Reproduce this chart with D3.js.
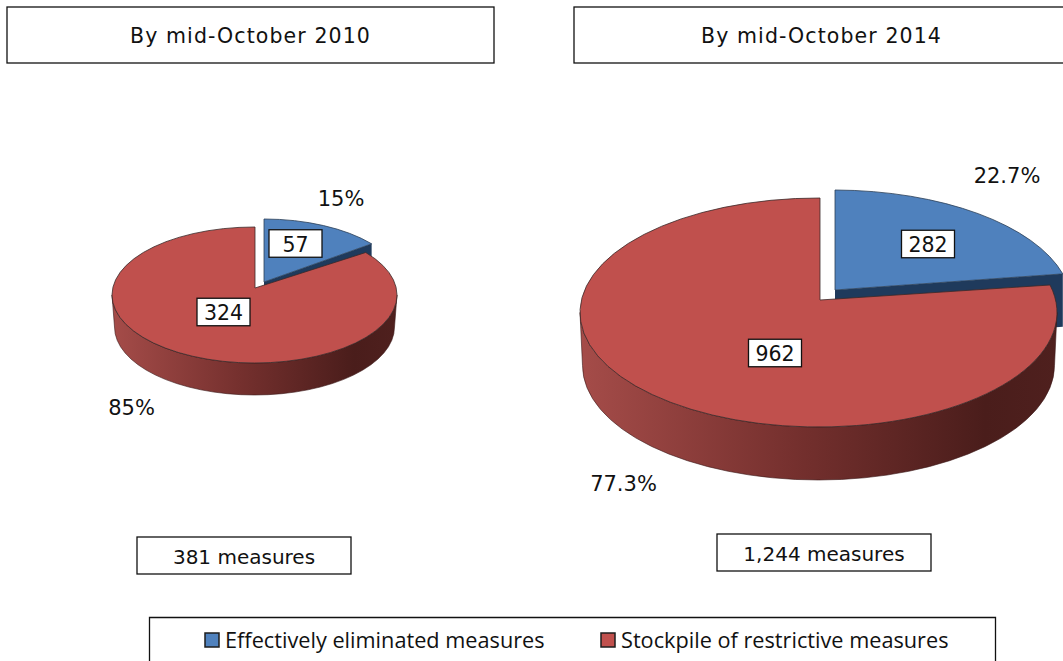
<!DOCTYPE html>
<html>
<head>
<meta charset="utf-8">
<script src="https://d3js.org/d3.v7.min.js"></script>
<style>
html, body { margin: 0; padding: 0; background: #fff; overflow: hidden; }
svg { display: block; }
text { font-family: "DejaVu Sans", sans-serif; fill: #111; }
</style>
</head>
<body>
<div id="chart"></div>
<script>
const categories = ['Effectively eliminated measures', 'Stockpile of restrictive measures'];
const titles = ['By mid-October 2010', 'By mid-October 2014'];
const values2010 = [57, 324];
const values2014 = [282, 962];
const percents2010 = ['15%', '85%'];
const percents2014 = ['22.7%', '77.3%'];
const totals = ['381 measures', '1,244 measures'];

const w = 1063;
const h = 661;
const colors = ['#4f81bd', '#c0504d'];
const blueWall = '#1f3a5c';

// red = top face ellipse, blue = the pulled out slice, apex = where the cut edges meet
const pies = [
  {
    values: values2010, percents: percents2010,
    red: { cx: 254.5, cy: 295, rx: 142.5, ry: 68, apex: [255, 288], tilt: 0.92 },
    blue: { cx: 263.5, cy: 287, rx: 140, ry: 68, apex: [264, 282], tilt: 1 },
    depth: 32, inset: 2.5,
    boxes: [[295.5, 243.5], [223.5, 312]],
    pctPos: [[341, 206], [131.5, 415]]
  },
  {
    values: values2014, percents: percents2014,
    red: { cx: 818.5, cy: 312.5, rx: 238.5, ry: 114.5, apex: [820, 300], tilt: 0.92 },
    blue: { cx: 833, cy: 304.5, rx: 238.5, ry: 114.5, apex: [835, 290], tilt: 1 },
    depth: 53, inset: 2.5,
    boxes: [[928, 244], [775, 353]],
    pctPos: [[1007, 183], [623.5, 491]]
  }
];

const svg = d3.select('#chart').append('svg').attr('width', w).attr('height', h);

const grad = svg.append('defs').append('linearGradient').attr('id', 'wallGrad');
grad.append('stop').attr('offset', '0%').attr('stop-color', '#a54c49');
grad.append('stop').attr('offset', '45%').attr('stop-color', '#75302e');
grad.append('stop').attr('offset', '85%').attr('stop-color', '#4a1d1b');
grad.append('stop').attr('offset', '100%').attr('stop-color', '#4f201e');

const pie = d3.pie().sort(null).value(d => d);

// where a ray out of the apex at pie angle a meets the ellipse
function rim(e, a) {
  const dx = e.rx * Math.sin(a), dy = -e.ry * e.tilt * Math.cos(a);
  const px = (e.apex[0] - e.cx) / e.rx, py = (e.apex[1] - e.cy) / e.ry;
  const qx = dx / e.rx, qy = dy / e.ry;
  const A = qx * qx + qy * qy, B = 2 * (px * qx + py * qy), C = px * px + py * py - 1;
  const k = (-B + Math.sqrt(B * B - 4 * A * C)) / (2 * A);
  return [e.apex[0] + k * dx, e.apex[1] + k * dy];
}

function slicePath(e, a0, a1) {
  const s = rim(e, a0), t = rim(e, a1);
  return `M${e.apex}L${s}A${e.rx},${e.ry} 0 ${a1 - a0 > Math.PI ? 1 : 0} 1 ${t}Z`;
}

function boxText(g, cx, cy, bw, bh, txt, size, spacing) {
  g.append('rect')
    .attr('x', cx - bw / 2).attr('y', cy - bh / 2)
    .attr('width', bw).attr('height', bh)
    .attr('fill', '#fff').attr('stroke', '#111').attr('stroke-width', 1.3);
  g.append('text')
    .attr('x', cx).attr('y', cy + 1)
    .attr('dy', '0.36em')
    .attr('text-anchor', 'middle')
    .attr('font-size', size)
    .attr('letter-spacing', spacing || 0)
    .text(txt);
}

pies.forEach(p => {
  const g = svg.append('g');
  const arcs = pie(p.values);
  const b = p.blue, r = p.red;
  const end = rim(b, arcs[0].endAngle);

  // cut face of the blue slice, the red top hides most of it
  g.append('path')
    .attr('d', `M${b.apex}L${end}L${[end[0], end[1] + p.depth]}L${[b.apex[0], b.apex[1] + p.depth]}Z`)
    .attr('fill', blueWall);

  g.append('path')
    .attr('d', slicePath(b, arcs[0].startAngle, arcs[0].endAngle))
    .attr('fill', colors[0])
    .attr('stroke', '#2b3f57').attr('stroke-width', 0.8);

  // outer wall of the red part
  const rb = r.rx - p.inset;
  g.append('path')
    .attr('d', `M${[r.cx + r.rx, r.cy]}A${r.rx},${r.ry} 0 0 1 ${[r.cx - r.rx, r.cy]}` +
      `L${[r.cx - rb, r.cy + p.depth]}A${rb},${r.ry} 0 0 0 ${[r.cx + rb, r.cy + p.depth]}Z`)
    .attr('fill', 'url(#wallGrad)')
    .attr('stroke', '#3a1817').attr('stroke-width', 0.6);

  g.append('path')
    .attr('d', slicePath(r, arcs[1].startAngle, arcs[1].endAngle))
    .attr('fill', colors[1])
    .attr('stroke', '#3a2a2a').attr('stroke-width', 0.8);

  p.values.forEach((v, i) => {
    boxText(g, p.boxes[i][0], p.boxes[i][1], 53, 27.5, d3.format(',')(v), 20.5);
    g.append('text')
      .attr('x', p.pctPos[i][0]).attr('y', p.pctPos[i][1])
      .attr('text-anchor', 'middle')
      .attr('font-size', 21)
      .text(p.percents[i]);
  });
});

// title and total boxes
boxText(svg, 250.5, 35, 487, 56, titles[0], 20.5, 1.1);
boxText(svg, 821.5, 35, 495, 56, titles[1], 20.5, 1.1);
boxText(svg, 244, 555.5, 214, 37, totals[0], 20);
boxText(svg, 824, 552.5, 214, 37, totals[1], 20);

// legend box, the bottom edge falls off the picture
svg.append('path')
  .attr('d', `M149.5,${h}V617.5H995.5V${h}`)
  .attr('fill', 'none').attr('stroke', '#111').attr('stroke-width', 1.3);

const legend = svg.selectAll('.legend')
  .data(categories)
  .enter().append('g')
  .attr('class', 'legend')
  .attr('transform', (d, i) => `translate(${[205, 601][i]},633)`);
legend.append('rect')
  .attr('width', 14).attr('height', 14)
  .attr('fill', (d, i) => colors[i])
  .attr('stroke', '#1d1d1d').attr('stroke-width', 1.5);
legend.append('text')
  .attr('x', 20).attr('y', 14.5)
  .style('font-family', '"Open Sans", sans-serif')
  .attr('font-size', 21.7)
  .text(d => d);
</script>
</body>
</html>
